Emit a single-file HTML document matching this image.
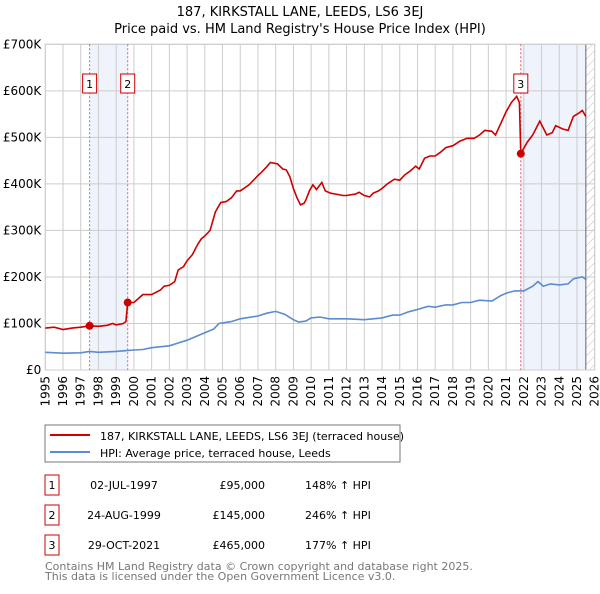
<!DOCTYPE html>
<html><head><meta charset="utf-8"><style>
body{margin:0;background:#fff;font-family:"DejaVu Sans","Liberation Sans",sans-serif;}
svg text{font-family:"DejaVu Sans","Liberation Sans",sans-serif;}
</style></head><body>
<svg id="c" width="600" height="590" viewBox="0 0 600 590" xmlns="http://www.w3.org/2000/svg">
<defs><pattern id="hatch" width="6" height="6" patternUnits="userSpaceOnUse" patternTransform="rotate(45)"><line x1="0" y1="0" x2="0" y2="6" stroke="#bbb" stroke-width="1"/></pattern></defs>
<text x="300" y="16" text-anchor="middle" font-size="13">187, KIRKSTALL LANE, LEEDS, LS6 3EJ</text>
<text x="300" y="33" text-anchor="middle" font-size="13">Price paid vs. HM Land Registry's House Price Index (HPI)</text>
<g id="plot"></g>
<rect x="45" y="425" width="355" height="37" fill="#fff" stroke="#777"/>
<line x1="50" y1="435" x2="90" y2="435" stroke="#cc0000" stroke-width="2"/>
<text x="100" y="440" font-size="11">187, KIRKSTALL LANE, LEEDS, LS6 3EJ (terraced house)</text>
<line x1="50" y1="452" x2="90" y2="452" stroke="#5b8bd0" stroke-width="2"/>
<text x="100" y="457" font-size="11">HPI: Average price, terraced house, Leeds</text>
<g font-size="11" id="tbl"></g>
<text x="45" y="570" font-size="11" fill="#777">Contains HM Land Registry data © Crown copyright and database right 2025.</text>
<text x="45" y="580" font-size="11" fill="#777">This data is licensed under the Open Government Licence v3.0.</text>
</svg>
<script>
const redYears=[1995,1995.5,1996,1996.5,1997,1997.5,1998,1998.5,1998.8,1999,1999.4,1999.55,1999.65,2000,2000.5,2001,2001.5,2001.7,2002,2002.3,2002.5,2002.8,2003,2003.3,2003.6,2003.8,2004,2004.3,2004.6,2004.9,2005.2,2005.5,2005.8,2006,2006.5,2007,2007.2,2007.5,2007.7,2008.1,2008.4,2008.6,2008.8,2009,2009.2,2009.4,2009.6,2009.7,2009.9,2010.1,2010.3,2010.6,2010.8,2011.1,2011.4,2011.8,2012,2012.5,2012.7,2013,2013.3,2013.5,2013.8,2014,2014.3,2014.7,2015,2015.3,2015.6,2015.9,2016.1,2016.4,2016.7,2017,2017.3,2017.6,2018,2018.4,2018.8,2019.2,2019.5,2019.8,2020.2,2020.4,2020.7,2021,2021.3,2021.6,2021.75,2021.83,2022.2,2022.5,2022.9,2023.1,2023.3,2023.6,2023.8,2024.2,2024.5,2024.8,2025.1,2025.3,2025.5];
const redValues=[90,92,87,90,92,95,94,96,100,97,100,104,145,145,162,162,172,180,182,190,215,222,235,248,270,282,288,300,340,360,362,370,385,385,398,418,425,437,446,443,432,430,415,390,370,355,358,365,385,398,388,403,385,380,378,375,375,378,382,375,372,380,385,390,400,410,408,420,428,438,432,455,460,460,468,478,482,492,498,498,505,515,513,505,530,555,575,588,575,465,490,505,535,520,505,510,525,518,515,545,552,558,545];
const hpiYears=[1995,1996,1997,1997.5,1998,1999,2000,2000.5,2001,2002,2002.5,2003,2003.5,2004,2004.5,2004.8,2005.5,2006,2007,2007.5,2008,2008.5,2009,2009.3,2009.7,2010,2010.5,2011,2012,2013,2014,2014.6,2015,2015.5,2016,2016.6,2017,2017.6,2018,2018.5,2019,2019.5,2020.2,2020.7,2021,2021.5,2022,2022.5,2022.8,2023.1,2023.5,2024,2024.5,2024.8,2025.3,2025.5];
const hpiValues=[38,36,37,40,38,40,43,44,48,52,58,64,72,80,88,100,104,110,116,122,126,120,108,103,105,112,114,110,110,108,112,118,118,125,130,137,135,140,140,145,145,150,148,160,165,170,170,180,190,180,185,183,185,196,200,195];
const saleYears=[1997.5,1999.65,2021.83];
const saleValues=[95,145,465];
const saleLabels=["1","2","3"];
const saleDates=["02-JUL-1997","24-AUG-1999","29-OCT-2021"];
const salePrices=["£95,000","£145,000","£465,000"];
const saleHpi=["148% ↑ HPI","246% ↑ HPI","177% ↑ HPI"];
const yTicks=[0,100,200,300,400,500,600,700];
const yTickLabels=["£0","£100K","£200K","£300K","£400K","£500K","£600K","£700K"];
const xTicks=[1995,1996,1997,1998,1999,2000,2001,2002,2003,2004,2005,2006,2007,2008,2009,2010,2011,2012,2013,2014,2015,2016,2017,2018,2019,2020,2021,2022,2023,2024,2025,2026];

const NS="http://www.w3.org/2000/svg";
const X0=45.3,X1=594.7,Y0=370,Y1=44.3;
const xs=y=>X0+(y-1995)/(2026-1995)*(X1-X0);
const ys=v=>Y0-v/700*(Y0-Y1);
const plot=document.getElementById('plot');
function mk(t,a,p){const e=document.createElementNS(NS,t);for(const k in a)e.setAttribute(k,a[k]);(p||plot).appendChild(e);return e;}
// shading
let e=mk('rect',{x:xs(saleYears[0]),y:Y1,width:xs(saleYears[1])-xs(saleYears[0]),height:Y0-Y1,fill:'#eef3fc'});


e=mk('rect',{x:xs(saleYears[2]),y:Y1,width:xs(2025.5)-xs(saleYears[2]),height:Y0-Y1,fill:'#eef3fc'});


e=mk('rect',{x:xs(2025.5),y:Y1,width:X1-xs(2025.5),height:Y0-Y1,fill:'url(#hatch)'});


xTicks.forEach((t,i)=>{
 let l=mk('line',{x1:xs(t),x2:xs(t),y1:Y1,y2:Y0,stroke:'#ccc'});
 
 
 const tx=mk('text',{x:0,y:0,'font-size':12,'text-anchor':'end',transform:`translate(${xs(t)+4},${Y0+6}) rotate(-90)`});
 tx.textContent=t;
 
 
});
yTicks.forEach((t,i)=>{
 let l=mk('line',{x1:X0,x2:X1,y1:ys(t),y2:ys(t),stroke:'#ccc'});
 
 
 const tx=mk('text',{x:X0-4,y:ys(t)+4,'font-size':12,'text-anchor':'end'});
 tx.textContent=yTickLabels[i];
 
 
});
e=mk('line',{x1:xs(2025.5),x2:xs(2025.5),y1:Y1,y2:Y0,stroke:'#666'});


e=mk('rect',{x:X0,y:Y1,width:X1-X0,height:Y0-Y1,fill:'none',stroke:'#ccc'});


saleYears.forEach((s,i)=>{
 let l=mk('line',{x1:xs(s),x2:xs(s),y1:Y1,y2:Y0,stroke:'#e06060','stroke-dasharray':'2,2'});
 
 
 let b=mk('rect',{x:xs(s)-7,y:74,width:14,height:19,fill:'#fff',stroke:'#cc0000'});
 
 
 let t=mk('text',{x:xs(s),y:88,'font-size':11,'text-anchor':'middle'});t.textContent=saleLabels[i];
 
 
});
const path=(xa,va)=>xa.map((x,i)=>(i?'L':'M')+xs(x).toFixed(1)+','+ys(va[i]).toFixed(1)).join('');
e=mk('path',{d:path(hpiYears,hpiValues),fill:'none',stroke:'#5b8bd0','stroke-width':1.6});


e=mk('path',{d:path(redYears,redValues),fill:'none',stroke:'#cc0000','stroke-width':1.6});


saleYears.forEach((s,i)=>{
 let c=mk('circle',{cx:xs(s),cy:ys(saleValues[i]),r:4,fill:'#cc0000'});
 
 
});
const tbl=document.getElementById('tbl');
saleLabels.forEach((l,i)=>{
 const y=483+i*30;
 let b=mk('rect',{x:45,y:y-8,width:14,height:20,fill:'#fff',stroke:'#cc0000'},tbl);
 
 
 const cells=[[52,l,'middle'],[158,saleDates[i],'end'],[265,salePrices[i],'end'],[305,saleHpi[i],'start']];
 cells.forEach(([x,txt,a],j)=>{
  let t=mk('text',{x:j==1?124:x,y:y+6,'text-anchor':j==1?'middle':a,'font-size':11},tbl);t.textContent=txt;
  
  
 });
});
</script>
</body></html>
